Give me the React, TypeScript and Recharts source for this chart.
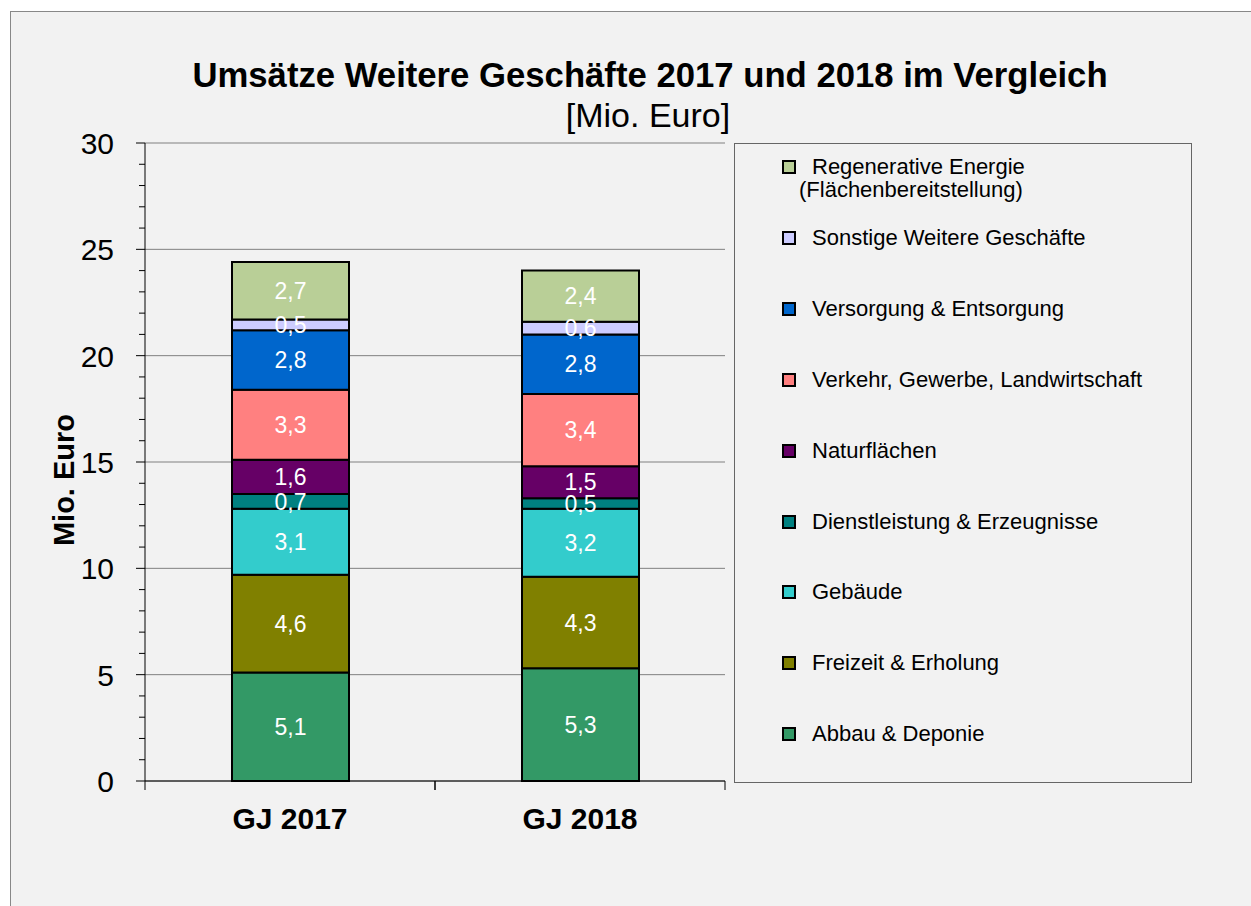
import { Bar, BarChart, CartesianGrid, LabelList, Legend, XAxis, YAxis } from "recharts";

const categories = ["GJ 2017", "GJ 2018"];
const abbauDeponie = [5.1, 5.3];
const freizeitErholung = [4.6, 4.3];
const gebaeude = [3.1, 3.2];
const dienstleistung = [0.7, 0.5];
const naturflaechen = [1.6, 1.5];
const verkehrGewerbe = [3.3, 3.4];
const versorgungEntsorgung = [2.8, 2.8];
const sonstige = [0.5, 0.6];
const regenerativ = [2.7, 2.4];

const yMajorTicks = [0, 5, 10, 15, 20, 25, 30];
const yTicks = [
  0, 1, 2, 3, 4, 5, 6, 7, 8, 9, 10, 11, 12, 13, 14, 15, 16, 17, 18, 19, 20, 21, 22, 23, 24, 25, 26, 27, 28, 29, 30
];

// bottom to top, as stacked
const series = [
  { key: "abbau", name: "Abbau & Deponie", values: abbauDeponie, color: "#339966" },
  { key: "freizeit", name: "Freizeit & Erholung", values: freizeitErholung, color: "#808000" },
  { key: "gebaeude", name: "Gebäude", values: gebaeude, color: "#33cccc" },
  { key: "dienst", name: "Dienstleistung & Erzeugnisse", values: dienstleistung, color: "#008080" },
  { key: "natur", name: "Naturflächen", values: naturflaechen, color: "#660066" },
  { key: "verkehr", name: "Verkehr, Gewerbe, Landwirtschaft", values: verkehrGewerbe, color: "#ff8080" },
  { key: "versorgung", name: "Versorgung & Entsorgung", values: versorgungEntsorgung, color: "#0066cc" },
  { key: "sonstige", name: "Sonstige Weitere Geschäfte", values: sonstige, color: "#ccccff" },
  { key: "regenerativ", name: "Regenerative Energie\n(Flächenbereitstellung)", values: regenerativ, color: "#b9cf97" }
];

const data = categories.map((cat, i) => {
  const row: Record<string, string | number> = { cat };
  series.forEach((s) => (row[s.key] = s.values[i]));
  return row;
});

const font = '"Liberation Sans", Arial, sans-serif';
const fmt = (v: any) => Number(v).toFixed(1).replace(".", ",");

function YTick(props: any) {
  const { x, y, payload } = props;
  const major = payload.value % 5 === 0;
  return (
    <g>
      <line x1={x - (major ? 9 : 6)} x2={x} y1={y} y2={y} stroke="#000" />
      {major && (
        <text x={x - 31} y={y} dy={11} textAnchor="end" fontSize={30} fill="#000" fontFamily={font}>
          {payload.value}
        </text>
      )}
    </g>
  );
}

function XTick(props: any) {
  const { x, y, payload } = props;
  const half = 145;
  return (
    <g>
      <line x1={x - half} x2={x - half} y1={y} y2={y + 9} stroke="#000" />
      <line x1={x + half} x2={x + half} y1={y} y2={y + 9} stroke="#000" />
      <text x={x} y={y + 48} textAnchor="middle" fontSize={30} fontWeight="bold" fill="#000" fontFamily={font}>
        {payload.value}
      </text>
    </g>
  );
}

function LegendBox() {
  const items = [...series].reverse();
  return (
    <div
      style={{
        position: "relative",
        width: 458,
        height: 640,
        boxSizing: "border-box",
        border: "1px solid #666",
        fontFamily: font,
        fontSize: 22,
        color: "#000"
      }}
    >
      {items.map((s, i) => {
        const cy = 23 + 70.9 * i;
        const lines = s.name.split("\n");
        return (
          <div key={s.key}>
            <div
              style={{
                position: "absolute",
                left: 47,
                top: cy - 7,
                width: 14,
                height: 14,
                boxSizing: "border-box",
                border: "2px solid #000",
                background: s.color
              }}
            />
            <div style={{ position: "absolute", left: 77, top: cy - 12, lineHeight: "23px", whiteSpace: "nowrap" }}>
              {lines.map((l, j) => (
                <div key={j} style={{ marginLeft: j > 0 ? -13 : 0 }}>
                  {l}
                </div>
              ))}
            </div>
          </div>
        );
      })}
    </div>
  );
}

export default function App() {
  return (
    <div style={{ position: "absolute", left: 0, top: 0, width: 1251, height: 906, overflow: "hidden", fontFamily: font }}>
      <div
        style={{
          position: "absolute",
          left: 10,
          top: 11,
          width: 1241,
          height: 895,
          boxSizing: "border-box",
          borderLeft: "1px solid #888",
          borderTop: "1px solid #888",
          background: "#f2f2f2"
        }}
      />
      <div
        style={{
          position: "absolute",
          left: 150,
          top: 58,
          width: 1000,
          textAlign: "center",
          fontSize: 34.7,
          lineHeight: "34px",
          fontWeight: "bold"
        }}
      >
        Umsätze Weitere Geschäfte 2017 und 2018 im Vergleich
      </div>
      <div style={{ position: "absolute", left: 148, top: 98, width: 1000, textAlign: "center", fontSize: 34, lineHeight: "34px" }}>
        [Mio. Euro]
      </div>
      <div
        style={{
          position: "absolute",
          left: 64 - 100,
          top: 480 - 15,
          width: 200,
          textAlign: "center",
          fontSize: 29,
          lineHeight: "30px",
          fontWeight: "bold",
          transform: "rotate(-90deg)"
        }}
      >
        Mio. Euro
      </div>
      <div style={{ position: "absolute", left: 0, top: 0 }}>
        <BarChart
          width={1251}
          height={906}
          data={data}
          margin={{ top: 143, right: 526, bottom: 65, left: 85 }}
          barSize={117}
          style={{ fontFamily: font }}
        >
          <CartesianGrid horizontal vertical={false} horizontalValues={yMajorTicks} stroke="#808080" />
          <XAxis
            dataKey="cat"
            height={60}
            interval={0}
            tickSize={0}
            tickMargin={0}
            tickLine={false}
            axisLine={{ stroke: "#000" }}
            tick={XTick}
          />
          <YAxis
            width={60}
            type="number"
            domain={[0, 30]}
            ticks={yTicks}
            interval={0}
            tickSize={0}
            tickMargin={0}
            tickLine={false}
            axisLine={{ stroke: "#000" }}
            tick={YTick}
          />
          {series.map((s) => (
            <Bar
              key={s.key}
              dataKey={s.key}
              name={s.name}
              stackId="a"
              fill={s.color}
              stroke="#000"
              strokeWidth={2}
              isAnimationActive={false}
            >
              <LabelList dataKey={s.key} position="center" fill="#fff" fontSize={23} formatter={fmt} />
            </Bar>
          ))}
          <Legend
            layout="vertical"
            align="center"
            verticalAlign="middle"
            content={() => <LegendBox />}
            wrapperStyle={{ left: 734, top: 143, width: 458, height: 640 }}
          />
        </BarChart>
      </div>
    </div>
  );
}
